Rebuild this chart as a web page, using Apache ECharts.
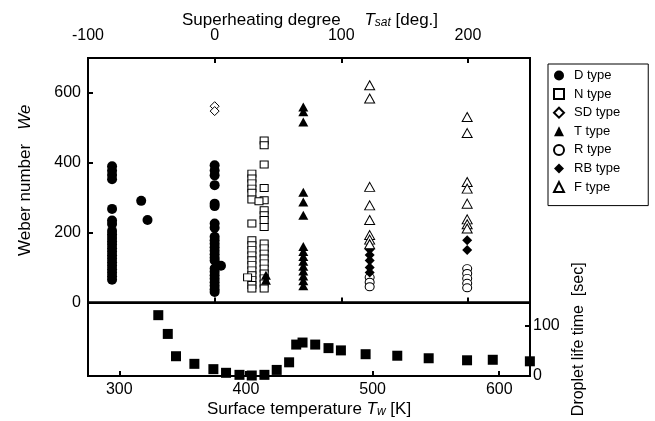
<!DOCTYPE html>
<html><head><meta charset="utf-8">
<script src="https://cdn.jsdelivr.net/npm/echarts@6/dist/echarts.min.js"></script>
<style>html,body{margin:0;padding:0;background:#fff}#c{width:655px;height:421px}</style>
</head><body><div id="c"></div>
<script>
// ---- data (top panel x: superheating degree, y: Weber number) ----
const dType = [
  [-81,390],[-81,377],[-81,365],[-81,353],[-81,268],[-81,235],[-81,225],[-81,205],[-81,195],[-81,185],[-81,175],[-81,165],[-81,155],[-81,145],[-81,135],[-81,125],[-81,115],[-81,105],[-81,95],[-81,85],[-81,75],[-81,65],
  [-58,291],[-53,236],
  [0,393],[0,378],[0,364],[0,336],[0,283],[0,276],[0,226],[0,214],[0,188],[0,178],[0,168],[0,158],[0,148],[0,138],[0,128],[0,120],[0,97],[0,88],[0,78],[0,68],[0,58],[0,48],[0,38],[0,30],
  [5,105]
];
const nType = [
  [29.4,369],[29.4,355],[29.4,341],[29.4,326],[29.4,314],[29.4,295],[29.4,226],[29.4,178],[29.4,164],[29.4,150],[29.4,135],[29.4,121],[29.4,107],[29.4,92],[29.4,78],[29.4,64],[29.4,50],[29.4,40],
  [39.1,464],[39.1,450],[39.1,395],[39.1,328],[39.1,293],[39.1,264],[39.1,250],[39.1,236],[39.1,216],[39.1,169],[39.1,155],[39.1,140],[39.1,126],[39.1,112],[39.1,97],[39.1,83],[39.1,69],[39.1,54],[39.1,40],
  [35,290],[26,72]
];
const sdType = [[0,562],[0,548]];
const tType = [
  [70,560],[70,546],[70,517],[70,316],[70,288],[70,250],[70,160],[70,146],[70,132],[70,118],[70,104],[70,90],[70,76],[70,62],[70,48],
  [40.5,78],[40.5,64]
];
const rType = [[122.4,72],[122.4,58],[122.4,45],[199.4,97],[199.4,83],[199.4,69],[199.4,55],[199.4,42]];
const rbType = [[122.4,152],[122.4,136],[122.4,120],[122.4,100],[122.4,86],[199.4,178],[199.4,150]];
const fType = [
  [122.4,622],[122.4,584],[122.4,331],[122.4,278],[122.4,236],[122.4,193],[122.4,180],[122.4,167],
  [199.4,531],[199.4,485],[199.4,345],[199.4,326],[199.4,283],[199.4,238],[199.4,224],[199.4,212]
];
// ---- bottom panel: surface temperature [K] vs droplet life time [sec] ----
const lifeTw   = [330.8,338.3,344.8,359.3,374.3,384.3,394.9,404.6,414.6,424.3,434.1,439.7,444.7,454.7,465.2,475,494.5,519.5,544.3,574.6,594.9,624.2];
const lifeTime = [120,83,39,24,13.5,6.3,2.3,1,2.3,12,27,62,66,62,55,50.5,43,40,35,31,32,29];
// ---- tick labels ----
const topTicks = [-100,0,100,200];
const weTicks = [0,200,400,600];
const twTicks = [300,400,500,600];
const lifeTicks = [0,100];
const legendNames = ['D type','N type','SD type','T type','R type','RB type','F type'];

const FF = '"Liberation Sans", Arial, Helvetica, sans-serif';
const black = '#000';
const lineStyle = {color: black, width: 2};
const lbl = {color: black, fontSize: 16, fontFamily: FF};
const richSub = {
  n:{fontSize:17, fontFamily:FF, color:black},
  i:{fontSize:17, fontStyle:'italic', fontFamily:FF, color:black},
  s:{fontSize:12, fontStyle:'italic', fontFamily:FF, color:black, verticalAlign:'bottom'}
};

const open = {color:'#fff', borderColor: black, borderWidth: 1, opacity: 1};
const filled = {color: black, opacity: 1};

function sc(name, data, symbol, size, style) {
  return {name, type:'scatter', xAxisIndex:0, yAxisIndex:0, data, symbol, symbolSize:size,
    itemStyle: style, clip:false, emphasis:{disabled:true}, silent:true, animation:false};
}

const chart = echarts.init(document.getElementById('c'), null, {renderer:'canvas'});
chart.setOption({
  animation:false,
  textStyle:{fontFamily:FF, color:black},
  grid:[
    {left:88, top:58, width:442, height:244.5, show:true, borderColor:black, borderWidth:2, backgroundColor:'transparent'},
    {left:88, top:302.5, width:442, height:73.5, show:true, borderColor:black, borderWidth:2, backgroundColor:'transparent'}
  ],
  graphic:[
    {type:'text', x:310, y:20, silent:true,
      style:{text:'{n|Superheating degree}{n|     }{i|T}{s|sat}{n| [deg.]}', rich:richSub,
        font:'17px ' + FF, fill:black, align:'center', verticalAlign:'middle'}}
  ],
  xAxis:[
    {gridIndex:0, type:'value', position:'top', min:-100, max:249,
      axisLine:{show:true, onZero:false, lineStyle}, splitLine:{show:false},
      axisTick:{show:true, inside:true, length:5, lineStyle, customValues:topTicks},
      axisLabel:{...lbl, margin:14, customValues:topTicks}
    },
    {gridIndex:0, type:'value', position:'bottom', min:-100, max:249,
      axisLine:{show:true, onZero:false, lineStyle}, splitLine:{show:false},
      axisTick:{show:true, inside:true, length:5, lineStyle, customValues:topTicks},
      axisLabel:{show:false}
    },
    {gridIndex:1, type:'value', position:'bottom', min:275.3, max:624.3,
      axisLine:{show:true, onZero:false, lineStyle}, splitLine:{show:false},
      axisTick:{show:true, inside:true, length:5, lineStyle, customValues:twTicks},
      axisLabel:{...lbl, margin:6, customValues:twTicks},
      name:'{n|Surface temperature }{i|T}{s|w}{n| [K]}', nameLocation:'middle', nameGap:25,
      nameTextStyle:{fontSize:17, fontFamily:FF, color:black, rich:richSub}
    }
  ],
  yAxis:[
    {gridIndex:0, type:'value', position:'left', min:0, max:700,
      axisLine:{show:true, onZero:false, lineStyle}, splitLine:{show:false},
      axisTick:{show:true, inside:true, length:5, lineStyle, customValues:weTicks},
      axisLabel:{...lbl, margin:7, customValues:weTicks},
      name:'{n|Weber number}   {i|We}', nameLocation:'middle', nameGap:54,
      nameTextStyle:{fontSize:17, fontFamily:FF, color:black, rich:richSub}
    },
    {gridIndex:1, type:'value', position:'right', min:0, max:145,
      axisLine:{show:true, onZero:false, lineStyle}, splitLine:{show:false},
      axisTick:{show:true, inside:true, length:5, lineStyle, customValues:lifeTicks},
      axisLabel:{...lbl, margin:3, customValues:lifeTicks},
      name:'Droplet life time  [sec]', nameLocation:'middle', nameGap:40,
      nameTextStyle:{fontSize:16, fontFamily:FF, color:black}
    }
  ],
  legend:{
    data: legendNames, orient:'vertical', left:548, top:64,
    padding:[5,28,12,5], itemGap:5.6, itemWidth:10, itemHeight:10,
    borderColor:black, borderWidth:1, backgroundColor:'#fff',
    selectedMode:false,
    textStyle:{fontSize:13, fontFamily:FF, color:black, padding:[0,0,0,5]}
  },
  series:[
    sc('D type', dType, 'circle', 10, filled),
    sc('N type', nType, 'rect', [8,7], open),
    sc('SD type', sdType, 'diamond', [9,9], open),
    sc('T type', tType, 'triangle', [10,9], filled),
    sc('R type', rType, 'circle', [9,8], open),
    sc('RB type', rbType, 'diamond', [10,10], filled),
    sc('F type', fType, 'triangle', [10,9], open),
    {name:'life', type:'scatter', xAxisIndex:2, yAxisIndex:1, symbol:'rect', symbolSize:10,
      data: lifeTw.map((t,i)=>[t, lifeTime[i]]), itemStyle:{color:black, opacity:1}, clip:false, silent:true, animation:false}
  ]
});
</script></body></html>
